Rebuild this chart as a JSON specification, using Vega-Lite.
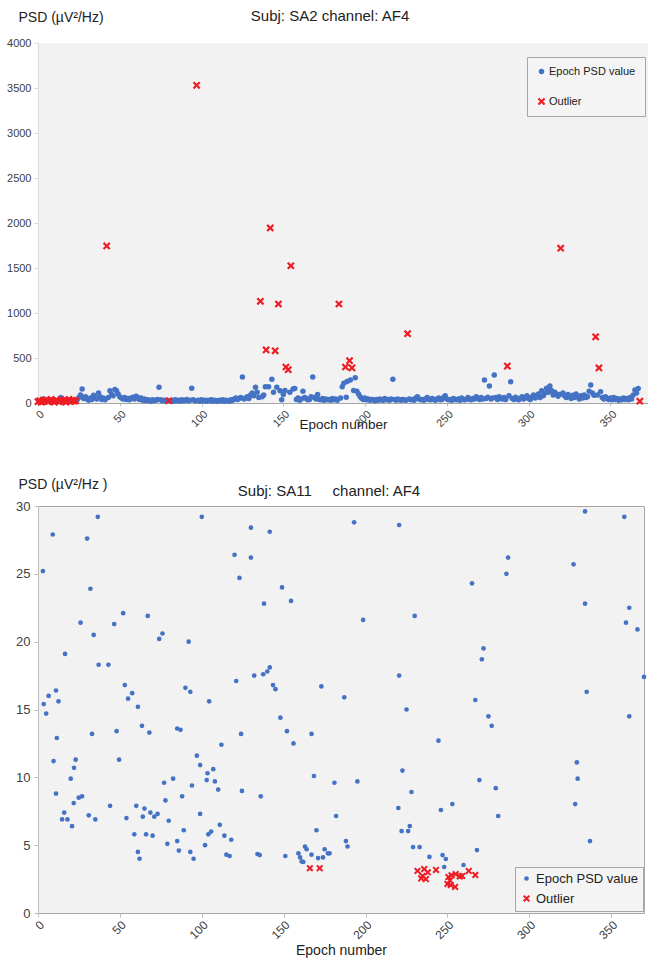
{
"$schema":"https://vega.github.io/schema/vega-lite/v6.json",
"padding":{"left":6,"top":9,"right":0,"bottom":0},
"background":"white",
"config":{"font":"Liberation Sans","view":{"fill":"#f2f2f2"},"axis":{"grid":false,"labelColor":"#404040","titleColor":"#222","titleFontWeight":"normal","tickColor":"#bfbfbf","domainColor":"#bfbfbf"},"title":{"fontWeight":"normal","color":"#222"},"legend":{"title":null}},
"spacing":44,
"resolve":{"scale":{"color":"independent","shape":"independent","size":"independent","x":"independent","y":"independent"},"legend":{"color":"independent","shape":"independent","size":"independent"}},
"datasets":{
"top":[
{"e":3,"v":45,"s":"P"},{"e":14,"v":60,"s":"P"},
{"e":24,"v":40,"s":"P"},{"e":25,"v":60,"s":"P"},{"e":26,"v":90,"s":"P"},{"e":27,"v":155,"s":"P"},{"e":28,"v":50,"s":"P"},{"e":29,"v":70,"s":"P"},{"e":30,"v":45,"s":"P"},{"e":31,"v":30,"s":"P"},{"e":32,"v":55,"s":"P"},{"e":33,"v":40,"s":"P"},{"e":34,"v":85,"s":"P"},{"e":35,"v":60,"s":"P"},{"e":36,"v":45,"s":"P"},{"e":37,"v":110,"s":"P"},{"e":38,"v":70,"s":"P"},{"e":39,"v":40,"s":"P"},{"e":40,"v":55,"s":"P"},{"e":41,"v":35,"s":"P"},{"e":43,"v":60,"s":"P"},{"e":44,"v":135,"s":"P"},{"e":45,"v":95,"s":"P"},{"e":46,"v":80,"s":"P"},{"e":47,"v":150,"s":"P"},{"e":48,"v":135,"s":"P"},{"e":49,"v":100,"s":"P"},{"e":50,"v":70,"s":"P"},{"e":51,"v":55,"s":"P"},{"e":52,"v":45,"s":"P"},{"e":53,"v":60,"s":"P"},{"e":54,"v":40,"s":"P"},{"e":55,"v":50,"s":"P"},{"e":56,"v":35,"s":"P"},{"e":57,"v":55,"s":"P"},{"e":58,"v":65,"s":"P"},{"e":59,"v":45,"s":"P"},{"e":60,"v":75,"s":"P"},{"e":61,"v":60,"s":"P"},{"e":62,"v":40,"s":"P"},{"e":63,"v":55,"s":"P"},{"e":64,"v":30,"s":"P"},{"e":65,"v":45,"s":"P"},{"e":66,"v":25,"s":"P"},{"e":67,"v":35,"s":"P"},{"e":68,"v":30,"s":"P"},{"e":69,"v":20,"s":"P"},{"e":70,"v":35,"s":"P"},{"e":71,"v":25,"s":"P"},{"e":72,"v":30,"s":"P"},{"e":73,"v":40,"s":"P"},{"e":74,"v":175,"s":"P"},{"e":75,"v":35,"s":"P"},{"e":76,"v":25,"s":"P"},{"e":77,"v":30,"s":"P"},{"e":78,"v":20,"s":"P"},{"e":79,"v":30,"s":"P"},{"e":81,"v":25,"s":"P"},{"e":82,"v":30,"s":"P"},{"e":83,"v":20,"s":"P"},{"e":84,"v":35,"s":"P"},{"e":85,"v":25,"s":"P"},{"e":86,"v":30,"s":"P"},{"e":87,"v":20,"s":"P"},{"e":88,"v":35,"s":"P"},{"e":89,"v":25,"s":"P"},{"e":90,"v":30,"s":"P"},{"e":91,"v":40,"s":"P"},{"e":92,"v":25,"s":"P"},{"e":93,"v":30,"s":"P"},{"e":94,"v":165,"s":"P"},{"e":95,"v":35,"s":"P"},{"e":96,"v":25,"s":"P"},{"e":98,"v":30,"s":"P"},{"e":99,"v":20,"s":"P"},{"e":100,"v":35,"s":"P"},{"e":101,"v":25,"s":"P"},{"e":102,"v":30,"s":"P"},{"e":103,"v":20,"s":"P"},{"e":104,"v":30,"s":"P"},{"e":105,"v":25,"s":"P"},{"e":106,"v":35,"s":"P"},{"e":107,"v":20,"s":"P"},{"e":108,"v":30,"s":"P"},{"e":109,"v":25,"s":"P"},{"e":110,"v":20,"s":"P"},{"e":111,"v":30,"s":"P"},{"e":112,"v":25,"s":"P"},{"e":113,"v":35,"s":"P"},{"e":114,"v":20,"s":"P"},{"e":115,"v":30,"s":"P"},{"e":116,"v":25,"s":"P"},{"e":117,"v":20,"s":"P"},{"e":118,"v":35,"s":"P"},{"e":119,"v":30,"s":"P"},{"e":120,"v":45,"s":"P"},{"e":121,"v":55,"s":"P"},{"e":122,"v":40,"s":"P"},{"e":123,"v":50,"s":"P"},{"e":124,"v":60,"s":"P"},{"e":125,"v":290,"s":"P"},{"e":126,"v":45,"s":"P"},{"e":127,"v":55,"s":"P"},{"e":128,"v":70,"s":"P"},{"e":129,"v":50,"s":"P"},{"e":130,"v":90,"s":"P"},{"e":131,"v":110,"s":"P"},{"e":132,"v":80,"s":"P"},{"e":133,"v":175,"s":"P"},{"e":134,"v":120,"s":"P"},{"e":135,"v":60,"s":"P"},{"e":137,"v":70,"s":"P"},{"e":138,"v":90,"s":"P"},{"e":139,"v":180,"s":"P"},{"e":141,"v":180,"s":"P"},{"e":143,"v":265,"s":"P"},{"e":144,"v":120,"s":"P"},{"e":146,"v":175,"s":"P"},{"e":148,"v":135,"s":"P"},{"e":149,"v":35,"s":"P"},{"e":150,"v":95,"s":"P"},{"e":151,"v":140,"s":"P"},{"e":154,"v":120,"s":"P"},{"e":156,"v":155,"s":"P"},{"e":157,"v":160,"s":"P"},{"e":158,"v":40,"s":"P"},{"e":159,"v":55,"s":"P"},{"e":160,"v":30,"s":"P"},{"e":161,"v":45,"s":"P"},{"e":162,"v":130,"s":"P"},{"e":163,"v":60,"s":"P"},{"e":164,"v":50,"s":"P"},{"e":165,"v":35,"s":"P"},{"e":166,"v":40,"s":"P"},{"e":167,"v":70,"s":"P"},{"e":168,"v":290,"s":"P"},{"e":169,"v":60,"s":"P"},{"e":170,"v":45,"s":"P"},{"e":171,"v":95,"s":"P"},{"e":172,"v":40,"s":"P"},{"e":173,"v":35,"s":"P"},{"e":174,"v":50,"s":"P"},{"e":175,"v":30,"s":"P"},{"e":176,"v":45,"s":"P"},{"e":177,"v":35,"s":"P"},{"e":178,"v":40,"s":"P"},{"e":179,"v":30,"s":"P"},{"e":180,"v":50,"s":"P"},{"e":181,"v":35,"s":"P"},{"e":182,"v":45,"s":"P"},{"e":183,"v":30,"s":"P"},{"e":185,"v":55,"s":"P"},{"e":186,"v":180,"s":"P"},{"e":187,"v":220,"s":"P"},{"e":188.5,"v":65,"s":"P"},{"e":189,"v":240,"s":"P"},{"e":191,"v":255,"s":"P"},{"e":193,"v":140,"s":"P"},{"e":194,"v":280,"s":"P"},{"e":195,"v":130,"s":"P"},{"e":196,"v":100,"s":"P"},{"e":197,"v":70,"s":"P"},{"e":198,"v":50,"s":"P"},{"e":199,"v":40,"s":"P"},{"e":200,"v":55,"s":"P"},{"e":201,"v":35,"s":"P"},{"e":202,"v":45,"s":"P"},{"e":203,"v":30,"s":"P"},{"e":204,"v":40,"s":"P"},{"e":205,"v":35,"s":"P"},{"e":206,"v":25,"s":"P"},{"e":207,"v":40,"s":"P"},{"e":208,"v":30,"s":"P"},{"e":209,"v":45,"s":"P"},{"e":210,"v":35,"s":"P"},{"e":211,"v":30,"s":"P"},{"e":212,"v":50,"s":"P"},{"e":213,"v":35,"s":"P"},{"e":214,"v":40,"s":"P"},{"e":215,"v":30,"s":"P"},{"e":216,"v":45,"s":"P"},{"e":217,"v":265,"s":"P"},{"e":218,"v":40,"s":"P"},{"e":219,"v":30,"s":"P"},{"e":220,"v":45,"s":"P"},{"e":221,"v":35,"s":"P"},{"e":222,"v":30,"s":"P"},{"e":223,"v":40,"s":"P"},{"e":224,"v":35,"s":"P"},{"e":225,"v":30,"s":"P"},{"e":227,"v":45,"s":"P"},{"e":228,"v":35,"s":"P"},{"e":229,"v":40,"s":"P"},{"e":230,"v":30,"s":"P"},{"e":231,"v":55,"s":"P"},{"e":232,"v":70,"s":"P"},{"e":233,"v":45,"s":"P"},{"e":234,"v":35,"s":"P"},{"e":235,"v":40,"s":"P"},{"e":236,"v":30,"s":"P"},{"e":237,"v":45,"s":"P"},{"e":238,"v":60,"s":"P"},{"e":239,"v":40,"s":"P"},{"e":240,"v":35,"s":"P"},{"e":241,"v":50,"s":"P"},{"e":242,"v":40,"s":"P"},{"e":243,"v":30,"s":"P"},{"e":244,"v":45,"s":"P"},{"e":245,"v":55,"s":"P"},{"e":246,"v":35,"s":"P"},{"e":247,"v":40,"s":"P"},{"e":248,"v":60,"s":"P"},{"e":249,"v":80,"s":"P"},{"e":250,"v":45,"s":"P"},{"e":251,"v":35,"s":"P"},{"e":252,"v":40,"s":"P"},{"e":253,"v":30,"s":"P"},{"e":254,"v":50,"s":"P"},{"e":255,"v":40,"s":"P"},{"e":256,"v":35,"s":"P"},{"e":257,"v":45,"s":"P"},{"e":258,"v":30,"s":"P"},{"e":259,"v":55,"s":"P"},{"e":260,"v":40,"s":"P"},{"e":261,"v":35,"s":"P"},{"e":262,"v":45,"s":"P"},{"e":263,"v":60,"s":"P"},{"e":264,"v":40,"s":"P"},{"e":265,"v":35,"s":"P"},{"e":266,"v":50,"s":"P"},{"e":267,"v":45,"s":"P"},{"e":268,"v":70,"s":"P"},{"e":269,"v":55,"s":"P"},{"e":270,"v":40,"s":"P"},{"e":271,"v":60,"s":"P"},{"e":272,"v":45,"s":"P"},{"e":273,"v":255,"s":"P"},{"e":274,"v":50,"s":"P"},{"e":275,"v":65,"s":"P"},{"e":276,"v":190,"s":"P"},{"e":277,"v":45,"s":"P"},{"e":278,"v":55,"s":"P"},{"e":279,"v":310,"s":"P"},{"e":280,"v":60,"s":"P"},{"e":281,"v":40,"s":"P"},{"e":282,"v":70,"s":"P"},{"e":283,"v":50,"s":"P"},{"e":284,"v":45,"s":"P"},{"e":285,"v":60,"s":"P"},{"e":286,"v":40,"s":"P"},{"e":288,"v":80,"s":"P"},{"e":289,"v":235,"s":"P"},{"e":290,"v":50,"s":"P"},{"e":291,"v":40,"s":"P"},{"e":292,"v":65,"s":"P"},{"e":293,"v":45,"s":"P"},{"e":294,"v":35,"s":"P"},{"e":295,"v":55,"s":"P"},{"e":296,"v":70,"s":"P"},{"e":297,"v":45,"s":"P"},{"e":298,"v":60,"s":"P"},{"e":299,"v":80,"s":"P"},{"e":300,"v":50,"s":"P"},{"e":301,"v":40,"s":"P"},{"e":302,"v":65,"s":"P"},{"e":303,"v":90,"s":"P"},{"e":304,"v":55,"s":"P"},{"e":305,"v":70,"s":"P"},{"e":306,"v":100,"s":"P"},{"e":307,"v":60,"s":"P"},{"e":308,"v":135,"s":"P"},{"e":309,"v":80,"s":"P"},{"e":310,"v":110,"s":"P"},{"e":311,"v":165,"s":"P"},{"e":312,"v":120,"s":"P"},{"e":313,"v":190,"s":"P"},{"e":314,"v":140,"s":"P"},{"e":315,"v":90,"s":"P"},{"e":316,"v":120,"s":"P"},{"e":317,"v":100,"s":"P"},{"e":318,"v":75,"s":"P"},{"e":319,"v":95,"s":"P"},{"e":321,"v":110,"s":"P"},{"e":322,"v":80,"s":"P"},{"e":323,"v":60,"s":"P"},{"e":324,"v":95,"s":"P"},{"e":325,"v":70,"s":"P"},{"e":326,"v":50,"s":"P"},{"e":327,"v":85,"s":"P"},{"e":328,"v":60,"s":"P"},{"e":329,"v":100,"s":"P"},{"e":330,"v":70,"s":"P"},{"e":331,"v":45,"s":"P"},{"e":332,"v":80,"s":"P"},{"e":333,"v":55,"s":"P"},{"e":334,"v":90,"s":"P"},{"e":335,"v":60,"s":"P"},{"e":336,"v":70,"s":"P"},{"e":337,"v":130,"s":"P"},{"e":338,"v":200,"s":"P"},{"e":339,"v":110,"s":"P"},{"e":340,"v":85,"s":"P"},{"e":342,"v":90,"s":"P"},{"e":344,"v":125,"s":"P"},{"e":345,"v":60,"s":"P"},{"e":346,"v":45,"s":"P"},{"e":347,"v":70,"s":"P"},{"e":348,"v":50,"s":"P"},{"e":349,"v":40,"s":"P"},{"e":350,"v":55,"s":"P"},{"e":351,"v":35,"s":"P"},{"e":352,"v":60,"s":"P"},{"e":353,"v":40,"s":"P"},{"e":354,"v":50,"s":"P"},{"e":355,"v":30,"s":"P"},{"e":356,"v":45,"s":"P"},{"e":357,"v":35,"s":"P"},{"e":358,"v":55,"s":"P"},{"e":359,"v":40,"s":"P"},{"e":360,"v":50,"s":"P"},{"e":361,"v":35,"s":"P"},{"e":362,"v":60,"s":"P"},{"e":363,"v":45,"s":"P"},{"e":364,"v":90,"s":"P"},{"e":365,"v":145,"s":"P"},{"e":366,"v":110,"s":"P"},{"e":367,"v":160,"s":"P"},
{"e":0,"v":15,"s":"O"},{"e":1,"v":25,"s":"O"},{"e":2,"v":10,"s":"O"},{"e":3,"v":30,"s":"O"},{"e":4,"v":20,"s":"O"},{"e":5,"v":35,"s":"O"},{"e":6,"v":15,"s":"O"},{"e":7,"v":25,"s":"O"},{"e":8,"v":40,"s":"O"},{"e":9,"v":20,"s":"O"},{"e":10,"v":10,"s":"O"},{"e":11,"v":30,"s":"O"},{"e":12,"v":25,"s":"O"},{"e":13,"v":15,"s":"O"},{"e":14,"v":35,"s":"O"},{"e":15,"v":20,"s":"O"},{"e":16,"v":30,"s":"O"},{"e":17,"v":10,"s":"O"},{"e":18,"v":25,"s":"O"},{"e":19,"v":40,"s":"O"},{"e":20,"v":15,"s":"O"},{"e":21,"v":30,"s":"O"},{"e":22,"v":20,"s":"O"},{"e":23,"v":25,"s":"O"},
{"e":42,"v":1745,"s":"O"},{"e":80,"v":25,"s":"O"},{"e":97,"v":3530,"s":"O"},{"e":136,"v":1130,"s":"O"},{"e":139.5,"v":590,"s":"O"},{"e":142,"v":1945,"s":"O"},{"e":145,"v":580,"s":"O"},{"e":147,"v":1100,"s":"O"},{"e":151.6,"v":400,"s":"O"},{"e":153,"v":370,"s":"O"},{"e":154.6,"v":1525,"s":"O"},{"e":184,"v":1100,"s":"O"},{"e":188,"v":400,"s":"O"},{"e":190.5,"v":470,"s":"O"},{"e":192,"v":390,"s":"O"},{"e":226,"v":770,"s":"O"},{"e":287,"v":410,"s":"O"},{"e":319.6,"v":1720,"s":"O"},{"e":341,"v":735,"s":"O"},{"e":343,"v":390,"s":"O"},{"e":368,"v":20,"s":"O"}
],
"bot":[
{"e":3,"v":25.2,"s":"P"},{"e":9,"v":27.9,"s":"P"},{"e":3.5,"v":15.4,"s":"P"},{"e":5,"v":14.7,"s":"P"},{"e":6.5,"v":16.0,"s":"P"},{"e":11,"v":16.4,"s":"P"},{"e":12.5,"v":15.6,"s":"P"},{"e":11.5,"v":12.9,"s":"P"},{"e":9.5,"v":11.2,"s":"P"},{"e":11,"v":8.8,"s":"P"},{"e":16.5,"v":19.1,"s":"P"},{"e":16,"v":7.4,"s":"P"},{"e":14.7,"v":6.9,"s":"P"},{"e":18,"v":6.9,"s":"P"},{"e":20.8,"v":6.4,"s":"P"},{"e":20,"v":9.9,"s":"P"},{"e":21.8,"v":8.1,"s":"P"},{"e":23,"v":11.3,"s":"P"},{"e":22,"v":10.7,"s":"P"},{"e":24.9,"v":8.5,"s":"P"},{"e":26.9,"v":8.6,"s":"P"},{"e":26,"v":21.4,"s":"P"},{"e":30,"v":27.6,"s":"P"},{"e":31,"v":7.2,"s":"P"},{"e":32,"v":23.9,"s":"P"},{"e":33,"v":13.2,"s":"P"},{"e":34,"v":20.5,"s":"P"},{"e":35,"v":6.9,"s":"P"},{"e":36.5,"v":29.2,"s":"P"},{"e":37,"v":18.3,"s":"P"},{"e":43,"v":18.3,"s":"P"},{"e":44,"v":7.9,"s":"P"},{"e":46.5,"v":21.3,"s":"P"},{"e":49.5,"v":11.3,"s":"P"},{"e":48,"v":13.4,"s":"P"},{"e":52,"v":22.1,"s":"P"},{"e":53,"v":16.8,"s":"P"},{"e":55,"v":15.8,"s":"P"},{"e":54,"v":7.0,"s":"P"},{"e":57.5,"v":16.2,"s":"P"},{"e":58.8,"v":5.8,"s":"P"},{"e":60,"v":7.9,"s":"P"},{"e":61,"v":4.5,"s":"P"},{"e":62,"v":4.0,"s":"P"},{"e":61,"v":15.2,"s":"P"},{"e":63.5,"v":13.8,"s":"P"},{"e":64,"v":7.1,"s":"P"},{"e":65,"v":7.7,"s":"P"},{"e":66,"v":5.8,"s":"P"},{"e":67,"v":21.9,"s":"P"},{"e":68,"v":13.3,"s":"P"},{"e":68.6,"v":7.4,"s":"P"},{"e":70,"v":5.7,"s":"P"},{"e":71,"v":7.1,"s":"P"},{"e":73,"v":7.3,"s":"P"},{"e":74,"v":20.2,"s":"P"},{"e":76,"v":20.6,"s":"P"},{"e":77,"v":9.6,"s":"P"},{"e":77.8,"v":8.3,"s":"P"},{"e":79,"v":5.1,"s":"P"},{"e":79.8,"v":6.8,"s":"P"},{"e":82.5,"v":9.9,"s":"P"},{"e":85,"v":13.6,"s":"P"},{"e":87,"v":13.5,"s":"P"},{"e":85,"v":5.3,"s":"P"},{"e":86,"v":4.6,"s":"P"},{"e":88,"v":8.6,"s":"P"},{"e":89,"v":6.1,"s":"P"},{"e":90,"v":16.6,"s":"P"},{"e":92,"v":20.0,"s":"P"},{"e":93,"v":16.3,"s":"P"},{"e":93,"v":4.5,"s":"P"},{"e":94,"v":9.4,"s":"P"},{"e":95,"v":4.0,"s":"P"},{"e":97,"v":11.6,"s":"P"},{"e":99,"v":10.9,"s":"P"},{"e":99,"v":7.3,"s":"P"},{"e":100,"v":29.2,"s":"P"},{"e":102,"v":5.0,"s":"P"},{"e":103,"v":9.8,"s":"P"},{"e":103.5,"v":10.3,"s":"P"},{"e":104.5,"v":15.6,"s":"P"},{"e":104,"v":5.8,"s":"P"},{"e":105.7,"v":6.0,"s":"P"},{"e":107,"v":10.6,"s":"P"},{"e":108,"v":9.7,"s":"P"},{"e":110,"v":9.1,"s":"P"},{"e":111,"v":6.5,"s":"P"},{"e":112,"v":12.4,"s":"P"},{"e":113.8,"v":5.7,"s":"P"},{"e":115,"v":4.3,"s":"P"},{"e":117,"v":4.2,"s":"P"},{"e":118,"v":5.4,"s":"P"},{"e":120,"v":26.4,"s":"P"},{"e":121,"v":17.1,"s":"P"},{"e":123,"v":24.7,"s":"P"},{"e":124,"v":13.2,"s":"P"},{"e":124.5,"v":9.0,"s":"P"},{"e":130,"v":28.4,"s":"P"},{"e":130,"v":26.2,"s":"P"},{"e":132,"v":17.5,"s":"P"},{"e":134,"v":4.35,"s":"P"},{"e":135.4,"v":4.27,"s":"P"},{"e":136,"v":8.6,"s":"P"},{"e":137.5,"v":17.6,"s":"P"},{"e":138,"v":22.8,"s":"P"},{"e":140,"v":17.8,"s":"P"},{"e":141.5,"v":28.1,"s":"P"},{"e":141.5,"v":18.1,"s":"P"},{"e":143.5,"v":16.8,"s":"P"},{"e":145,"v":16.5,"s":"P"},{"e":148,"v":14.4,"s":"P"},{"e":149,"v":24.0,"s":"P"},{"e":151,"v":4.2,"s":"P"},{"e":152,"v":13.4,"s":"P"},{"e":154.5,"v":23.0,"s":"P"},{"e":156,"v":12.5,"s":"P"},{"e":159,"v":4.4,"s":"P"},{"e":160,"v":4.1,"s":"P"},{"e":161,"v":3.8,"s":"P"},{"e":162,"v":3.76,"s":"P"},{"e":163,"v":4.9,"s":"P"},{"e":164,"v":4.7,"s":"P"},{"e":167,"v":4.3,"s":"P"},{"e":167,"v":13.2,"s":"P"},{"e":168.5,"v":10.1,"s":"P"},{"e":170,"v":6.1,"s":"P"},{"e":171,"v":4.05,"s":"P"},{"e":173,"v":16.7,"s":"P"},{"e":174,"v":4.1,"s":"P"},{"e":175,"v":4.7,"s":"P"},{"e":177,"v":4.4,"s":"P"},{"e":178,"v":4.4,"s":"P"},{"e":181,"v":9.6,"s":"P"},{"e":182,"v":7.15,"s":"P"},{"e":187,"v":15.9,"s":"P"},{"e":188,"v":5.3,"s":"P"},{"e":189,"v":4.9,"s":"P"},{"e":193,"v":28.8,"s":"P"},{"e":195,"v":9.7,"s":"P"},{"e":198.5,"v":21.6,"s":"P"},{"e":220,"v":7.74,"s":"P"},{"e":220.5,"v":28.6,"s":"P"},{"e":220.5,"v":17.5,"s":"P"},{"e":222,"v":6.04,"s":"P"},{"e":222.5,"v":10.5,"s":"P"},{"e":225,"v":15.0,"s":"P"},{"e":226,"v":6.04,"s":"P"},{"e":227,"v":6.41,"s":"P"},{"e":228,"v":8.92,"s":"P"},{"e":229,"v":4.86,"s":"P"},{"e":230,"v":21.9,"s":"P"},{"e":233,"v":4.86,"s":"P"},{"e":239,"v":4.13,"s":"P"},{"e":244.5,"v":12.7,"s":"P"},{"e":246,"v":7.59,"s":"P"},{"e":247,"v":4.27,"s":"P"},{"e":248,"v":3.39,"s":"P"},{"e":249,"v":3.98,"s":"P"},{"e":253,"v":8.03,"s":"P"},{"e":259.8,"v":3.54,"s":"P"},{"e":265,"v":24.3,"s":"P"},{"e":267,"v":15.7,"s":"P"},{"e":268,"v":4.64,"s":"P"},{"e":269.5,"v":9.8,"s":"P"},{"e":271,"v":18.7,"s":"P"},{"e":272,"v":19.5,"s":"P"},{"e":275,"v":14.5,"s":"P"},{"e":277,"v":13.8,"s":"P"},{"e":279.5,"v":9.2,"s":"P"},{"e":281,"v":7.15,"s":"P"},{"e":286,"v":25.0,"s":"P"},{"e":287,"v":26.2,"s":"P"},{"e":327,"v":25.7,"s":"P"},{"e":328,"v":8.03,"s":"P"},{"e":329,"v":11.1,"s":"P"},{"e":329.5,"v":9.9,"s":"P"},{"e":334,"v":29.6,"s":"P"},{"e":334,"v":22.8,"s":"P"},{"e":335,"v":16.3,"s":"P"},{"e":337,"v":5.3,"s":"P"},{"e":358,"v":29.2,"s":"P"},{"e":359,"v":21.4,"s":"P"},{"e":361,"v":22.5,"s":"P"},{"e":361,"v":14.5,"s":"P"},{"e":366,"v":20.9,"s":"P"},{"e":370,"v":17.4,"s":"P"},
{"e":166,"v":3.3,"s":"O"},{"e":172,"v":3.3,"s":"O"},{"e":231.7,"v":3.1,"s":"O"},{"e":235.8,"v":3.24,"s":"O"},{"e":234.8,"v":2.73,"s":"O"},{"e":236.8,"v":2.5,"s":"O"},{"e":234,"v":2.55,"s":"O"},{"e":238,"v":3.0,"s":"O"},{"e":243,"v":3.17,"s":"O"},{"e":250.6,"v":2.65,"s":"O"},{"e":250,"v":2.14,"s":"O"},{"e":252,"v":2.06,"s":"O"},{"e":254.7,"v":1.92,"s":"O"},{"e":252.5,"v":2.78,"s":"O"},{"e":255,"v":2.87,"s":"O"},{"e":257.5,"v":2.7,"s":"O"},{"e":259,"v":2.73,"s":"O"},{"e":263,"v":3.1,"s":"O"},{"e":267,"v":2.8,"s":"O"},{"e":251.5,"v":2.4,"s":"O"}
]},
"vconcat":[
{"width":610,"height":360,"data":{"name":"top"},"view":{"stroke":null},
"title":{"text":"Subj: SA2 channel: AF4","fontSize":15,"dx":-13,"offset":-14},
"mark":{"type":"point","filled":true,"opacity":1},
"encoding":{
"x":{"field":"e","type":"quantitative","scale":{"domain":[0,373],"nice":false},"axis":{"values":[0,50,100,150,200,250,300,350],"labelAngle":-45,"labelFontSize":11,"title":"Epoch number","titleFontSize":13.5,"titlePadding":-11,"tickSize":3,"domainColor":"#a6a6a6"}},
"y":{"field":"v","type":"quantitative","scale":{"domain":[0,4000],"nice":false},"axis":{"values":[0,500,1000,1500,2000,2500,3000,3500,4000],"format":"d","labelFontSize":11,"tickSize":4,"labelPadding":3,"domainColor":"#d9d9d9","tickColor":"#d9d9d9","title":"PSD (µV²/Hz)","titleAngle":0,"titleAlign":"left","titleBaseline":"middle","titleX":-20,"titleY":-26,"titleFontSize":14}},
"color":{"field":"s","type":"nominal","scale":{"domain":["P","O"],"range":["#4472c4","#ee1c24"]},"legend":{"orient":"none","legendX":489,"legendY":14,"strokeColor":"#a6a6a6","fillColor":"#f4f4f4","padding":9,"rowPadding":18,"labelFontSize":11,"labelColor":"#222","labelOffset":2,"labelExpr":"datum.label == 'P' ? 'Epoch PSD value' : 'Outlier'"}},
"shape":{"field":"s","type":"nominal","scale":{"domain":["P","O"],"range":["circle","M-1,-0.6L-0.6,-1L0,-0.4L0.6,-1L1,-0.6L0.4,0L1,0.6L0.6,1L0,0.4L-0.6,1L-1,0.6L-0.4,0Z"]}},
"size":{"field":"s","type":"nominal","scale":{"domain":["P","O"],"range":[30,60]}}
}},
{"width":606,"height":407,"data":{"name":"bot"},"view":{"stroke":"#a6a6a6"},
"title":{"text":"Subj: SA11\u00a0\u00a0\u00a0\u00a0 channel: AF4","fontSize":15,"dx":-12,"offset":-22},
"mark":{"type":"point","filled":true,"opacity":1},
"encoding":{
"x":{"field":"e","type":"quantitative","scale":{"domain":[0,370],"nice":false},"axis":{"values":[0,50,100,150,200,250,300,350],"labelAngle":-45,"labelFontSize":12,"title":"Epoch number","titleFontSize":14,"titlePadding":3,"tickSize":4,"domainColor":"#a6a6a6"}},
"y":{"field":"v","type":"quantitative","scale":{"domain":[0,30],"nice":false},"axis":{"values":[0,5,10,15,20,25,30],"labelFontSize":13,"tickSize":4,"labelPadding":4,"title":"PSD (µV²/Hz )","titleAngle":0,"titleAlign":"left","titleBaseline":"middle","titleX":-20,"titleY":-22,"titleFontSize":14}},
"color":{"field":"s","type":"nominal","scale":{"domain":["P","O"],"range":["#4472c4","#ee1c24"]},"legend":{"orient":"none","legendX":477,"legendY":361,"strokeColor":"#a6a6a6","fillColor":"#f4f4f4","padding":5,"rowPadding":6,"labelFontSize":13,"labelColor":"#222","labelOffset":3,"labelExpr":"datum.label == 'P' ? 'Epoch PSD value' : 'Outlier'"}},
"shape":{"field":"s","type":"nominal","scale":{"domain":["P","O"],"range":["circle","M-1,-0.6L-0.6,-1L0,-0.4L0.6,-1L1,-0.6L0.4,0L1,0.6L0.6,1L0,0.4L-0.6,1L-1,0.6L-0.4,0Z"]}},
"size":{"field":"s","type":"nominal","scale":{"domain":["P","O"],"range":[22,50]}}
}}
]
}
